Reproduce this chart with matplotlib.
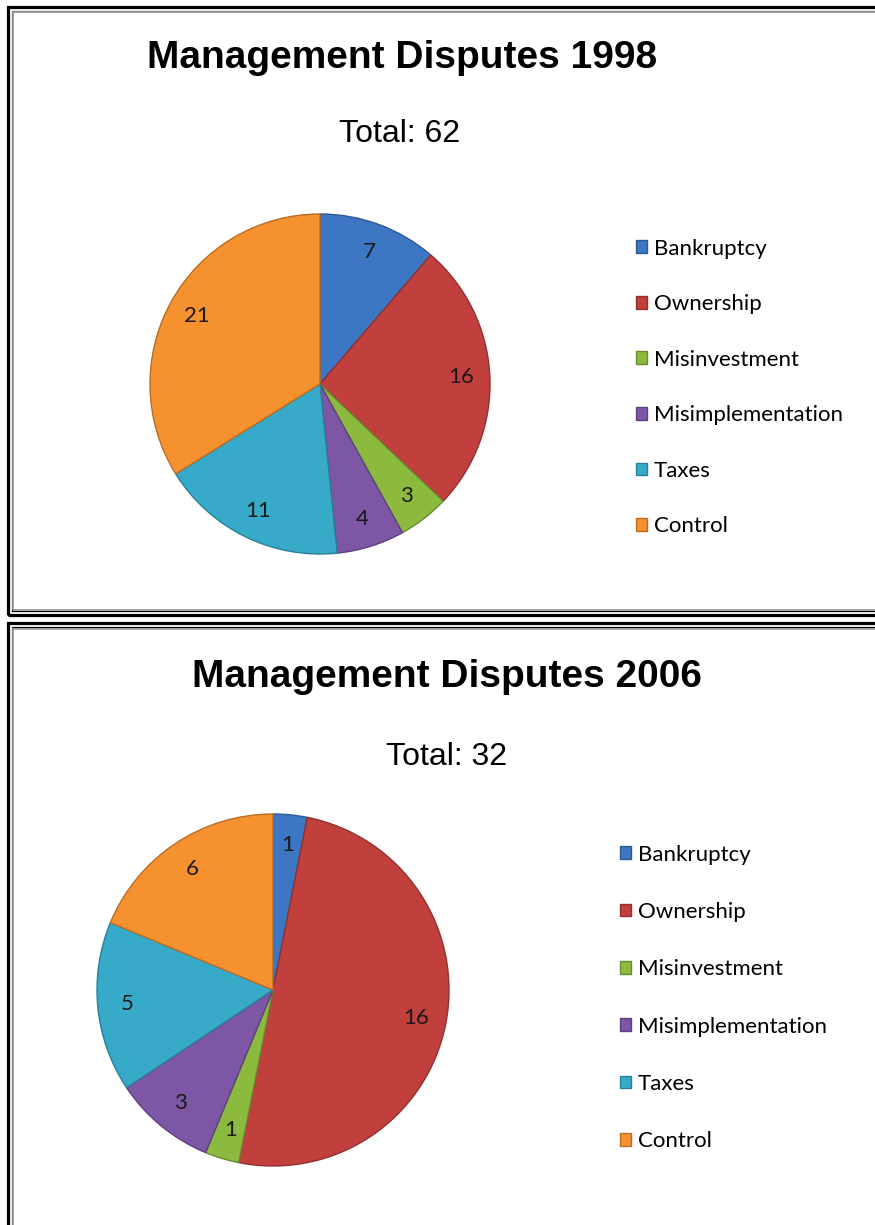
import matplotlib
matplotlib.use('Agg')
import matplotlib.pyplot as plt
from matplotlib.patches import Rectangle
from matplotlib.colors import to_rgb

W, H = 875, 1225

categories = ['Bankruptcy', 'Ownership', 'Misinvestment', 'Misimplementation', 'Taxes', 'Control']
values_1998 = [7, 16, 3, 4, 11, 21]
values_2006 = [1, 16, 1, 3, 5, 6]
titles = ['Management Disputes 1998', 'Management Disputes 2006']
subtitles = ['Total: 62', 'Total: 32']
colors = ['#3d76c2', '#c1403d', '#8cba3e', '#7d56a6', '#37aac9', '#f6912f']


def fx(x):
    return x / W


def fy(y):
    return 1 - y / H


def darker(c, f=0.7):
    r, g, b = to_rgb(c)
    return (r * f, g * f, b * f)


def frame(fig, top, bottom):
    # double border: thick black outside, thin black + gray inside
    for off, lw, col in [(7.5, 3.2, 'black'), (11.5, 1.2, 'black'), (13, 1.8, '#9a9a9a')]:
        x0, x1 = off, W + 20
        y0, y1 = top + (off - 7.5), bottom - (off - 7.5)
        fig.add_artist(Rectangle((fx(x0), fy(y1)), fx(x1 - x0), (y1 - y0) / H,
                                 transform=fig.transFigure, fill=False,
                                 edgecolor=col, linewidth=lw * 0.72))


def panel(fig, vals, title, sub, cx, cy, r, tx, ty, sx, sy, lx, ly, lspace):
    fig.text(fx(tx), fy(ty), title, ha='center', va='baseline', fontsize=28,
             fontweight='bold', family='Liberation Sans')
    fig.text(fx(sx), fy(sy), sub, ha='center', va='baseline', fontsize=23,
             family='Liberation Sans')
    pad = 1.15
    ax = fig.add_axes([fx(cx - r * pad), fy(cy + r * pad), 2 * r * pad / W, 2 * r * pad / H])
    wedges, texts = ax.pie(vals, colors=colors, startangle=90, counterclock=False,
                           labels=[str(v) for v in vals], labeldistance=0.83,
                           wedgeprops=dict(linewidth=1.0),
                           textprops=dict(fontsize=16, family='Lato', color='#1a1a1a',
                                          ha='center', va='center'))
    for w, c in zip(wedges, colors):
        w.set_edgecolor(darker(c, 0.75))
    ax.set_xlim(-pad, pad)
    ax.set_ylim(-pad, pad)
    ax.set_aspect('equal')
    ax.legend(wedges, categories, loc='center left', bbox_to_anchor=(fx(lx), fy(ly)),
              bbox_transform=fig.transFigure, frameon=False, borderpad=0,
              handlelength=0.5, handleheight=0.5, handletextpad=0.3,
              labelspacing=lspace, prop=dict(family='Lato', size=16))


fig = plt.figure(figsize=(W / 100, H / 100), dpi=100)
fig.patch.set_facecolor('white')

frame(fig, 6.5, 615)
frame(fig, 623, 1240)

panel(fig, values_1998, titles[0], subtitles[0], 320, 384, 170,
      402, 68, 400, 142, 625, 387.5, 1.6)
panel(fig, values_2006, titles[1], subtitles[1], 273, 990, 176,
      447, 687, 447, 765, 609, 998, 1.68)

fig.savefig('out.png', dpi=100)
